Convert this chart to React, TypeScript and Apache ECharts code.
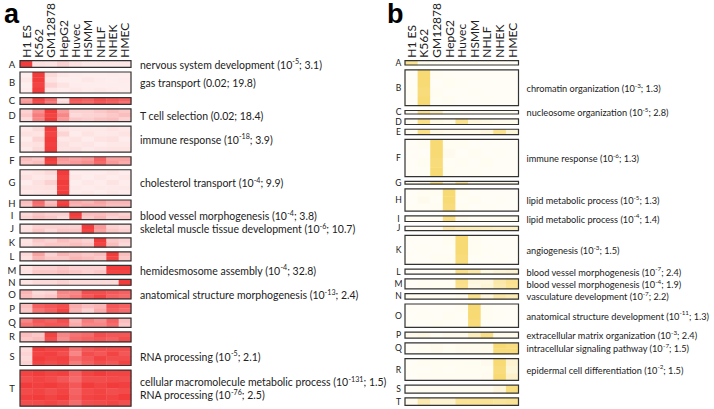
import React, { useEffect, useRef } from "react";
import * as echarts from "echarts";

const FONT = "Lato, 'Open Sans', sans-serif";

const cellLines = ["H1 ES", "K562", "GM12878", "HepG2", "Huvec", "HSMM", "NHLF", "NHEK", "HMEC"];
const groupLetters = ["A", "B", "C", "D", "E", "F", "G", "H", "I", "J", "K", "L", "M", "N", "O", "P", "Q", "R", "S", "T"];

// relative group sizes (number of rows / genes, arbitrary units)
const sizesA = [6.7, 21, 6.7, 12.7, 26, 8.4, 25.7, 7.3, 7.7, 9, 9.4, 9, 9.3, 6, 9, 10, 9.3, 10, 19, 36];
const sizesB = [4.3, 36, 3.5, 5.7, 5.3, 37.3, 2.7, 22.3, 5.6, 4.3, 29, 5, 10, 5.6, 23.4, 6, 11, 21.7, 8, 7.4];

// expression levels (0..1) per group: rows x cell lines
const heatA: number[][][] = [
  [[1, 0.12, 0.1, 0.2, 0.12, 0.08, 0.08, 0.08, 0.08]],
  [[0.05, 1, 0.15, 0.08, 0.06, 0.05, 0.05, 0.06, 0.05], [0.08, 1, 0.1, 0.05, 0.05, 0.08, 0.06, 0.05, 0.06], [0.04, 0.95, 0.18, 0.1, 0.06, 0.05, 0.05, 0.05, 0.05], [0.06, 1, 0.08, 0.06, 0.08, 0.06, 0.07, 0.06, 0.05]],
  [[0.45, 0.95, 0.75, 0.12, 0.85, 0.8, 0.9, 0.85, 0.8], [0.5, 0.9, 0.65, 0.15, 0.8, 0.75, 0.85, 0.8, 0.7]],
  [[0.2, 0.55, 1, 0.5, 0.2, 0.2, 0.25, 0.3, 0.25], [0.25, 0.65, 0.95, 0.6, 0.15, 0.18, 0.2, 0.25, 0.3], [0.15, 0.6, 1, 0.5, 0.25, 0.22, 0.28, 0.3, 0.2]],
  [[0.08, 0.15, 1, 0.1, 0.08, 0.08, 0.08, 0.1, 0.08], [0.12, 0.1, 0.95, 0.18, 0.06, 0.1, 0.07, 0.08, 0.1], [0.06, 0.18, 1, 0.08, 0.1, 0.06, 0.1, 0.12, 0.06], [0.1, 0.12, 0.98, 0.12, 0.08, 0.09, 0.06, 0.08, 0.08], [0.07, 0.15, 1, 0.1, 0.12, 0.07, 0.09, 0.1, 0.1]],
  [[0.3, 0.25, 1, 0.5, 0.45, 0.5, 0.8, 0.45, 0.45], [0.25, 0.3, 0.95, 0.45, 0.5, 0.55, 0.75, 0.5, 0.4]],
  [[0.08, 0.1, 0.15, 1, 0.06, 0.06, 0.06, 0.08, 0.06], [0.12, 0.08, 0.1, 0.95, 0.08, 0.05, 0.08, 0.06, 0.08], [0.06, 0.12, 0.2, 1, 0.05, 0.08, 0.06, 0.1, 0.06], [0.1, 0.1, 0.12, 0.98, 0.07, 0.06, 0.07, 0.07, 0.08], [0.08, 0.09, 0.1, 1, 0.06, 0.07, 0.05, 0.08, 0.06]],
  [[0.3, 0.75, 0.3, 0.95, 0.4, 0.35, 0.45, 0.35, 0.35], [0.25, 0.7, 0.35, 1, 0.35, 0.4, 0.4, 0.3, 0.3]],
  [[0.15, 0.25, 0.2, 0.2, 1, 0.3, 0.3, 0.25, 0.2], [0.2, 0.3, 0.25, 0.15, 0.95, 0.25, 0.35, 0.2, 0.25]],
  [[0.1, 0.2, 0.2, 0.2, 0.2, 1, 0.5, 0.2, 0.15], [0.12, 0.25, 0.15, 0.25, 0.25, 0.95, 0.45, 0.25, 0.2]],
  [[0.1, 0.25, 0.2, 0.3, 0.25, 0.2, 1, 0.25, 0.2], [0.12, 0.2, 0.25, 0.25, 0.3, 0.25, 0.95, 0.3, 0.15]],
  [[0.15, 0.45, 0.2, 0.35, 0.3, 0.25, 0.3, 1, 0.3], [0.12, 0.35, 0.25, 0.25, 0.35, 0.3, 0.25, 0.95, 0.25]],
  [[0.1, 0.2, 0.2, 0.25, 0.2, 0.2, 0.2, 1, 1], [0.12, 0.25, 0.25, 0.3, 0.25, 0.2, 0.25, 0.95, 0.95]],
  [[0.1, 0.15, 0.15, 0.2, 0.15, 0.15, 0.15, 0.15, 1]],
  [[0.35, 0.15, 0.18, 0.6, 0.6, 0.9, 0.9, 0.85, 0.8], [0.3, 0.2, 0.25, 0.55, 0.65, 0.85, 0.95, 0.8, 0.75]],
  [[0.3, 0.8, 0.85, 0.9, 0.4, 0.3, 0.35, 0.85, 0.8], [0.25, 0.7, 0.8, 0.95, 0.35, 0.2, 0.4, 0.8, 0.75]],
  [[0.6, 0.85, 0.8, 0.9, 0.35, 0.65, 0.55, 0.8, 0.3], [0.7, 0.8, 0.85, 0.85, 0.4, 0.6, 0.6, 0.75, 0.25]],
  [[0.3, 0.25, 0.95, 0.6, 0.7, 0.75, 0.9, 0.85, 0.85], [0.25, 0.3, 0.9, 0.55, 0.75, 0.8, 0.85, 0.8, 0.9]],
  [[0.15, 1, 0.95, 0.95, 0.7, 0.85, 0.9, 0.9, 0.9], [0.18, 0.95, 0.98, 0.9, 0.6, 0.9, 0.85, 0.95, 0.85], [0.15, 1, 0.95, 0.98, 0.75, 0.85, 0.95, 0.9, 0.9], [0.2, 0.95, 0.9, 0.95, 0.65, 0.8, 0.9, 0.85, 0.95]],
  [[0.95, 1, 0.95, 0.98, 0.8, 0.95, 1, 0.95, 0.95], [0.9, 0.95, 0.92, 0.85, 0.75, 0.9, 0.9, 0.92, 0.9], [1, 0.98, 1, 0.95, 0.85, 1, 0.95, 1, 0.98], [0.92, 0.95, 0.9, 0.95, 0.78, 0.92, 0.95, 0.9, 0.92], [0.98, 1, 0.95, 1, 0.82, 0.95, 0.98, 0.95, 1], [0.9, 0.92, 0.95, 0.9, 0.75, 0.9, 0.92, 0.95, 0.9]],
];

const heatB: number[][][] = [
  [[0.75, 0.08, 0.05, 0.03, 0.03, 0.03, 0.03, 0.03, 0.03]],
  [[0.03, 1, 0.05, 0.04, 0.03, 0.02, 0.03, 0.02, 0.02], [0.02, 1, 0.03, 0.06, 0.04, 0.03, 0.02, 0.03, 0.02], [0.04, 0.95, 0.06, 0.03, 0.02, 0.04, 0.03, 0.02, 0.03], [0.02, 1, 0.04, 0.05, 0.03, 0.03, 0.04, 0.03, 0.02]],
  [[0.05, 0.8, 0.5, 0.05, 0.05, 0.05, 0.05, 0.05, 0.05]],
  [[0.05, 0.85, 0.15, 0.1, 0.8, 0.2, 0.15, 0.1, 0.1]],
  [[0.05, 0.85, 0.15, 0.1, 0.1, 0.1, 0.2, 0.8, 0.25]],
  [[0.02, 0.05, 1, 0.05, 0.05, 0.03, 0.03, 0.03, 0.03], [0.03, 0.03, 1, 0.08, 0.03, 0.05, 0.03, 0.04, 0.02], [0.02, 0.06, 0.95, 0.04, 0.06, 0.03, 0.05, 0.03, 0.03], [0.03, 0.04, 1, 0.06, 0.04, 0.04, 0.03, 0.02, 0.03]],
  [[0.05, 0.1, 0.8, 0.1, 0.7, 0.1, 0.1, 0.1, 0.1]],
  [[0.03, 0.05, 0.05, 1, 0.05, 0.03, 0.03, 0.03, 0.03], [0.02, 0.08, 0.04, 1, 0.04, 0.05, 0.03, 0.04, 0.02], [0.04, 0.04, 0.06, 0.95, 0.06, 0.03, 0.04, 0.03, 0.03]],
  [[0.05, 0.05, 0.05, 0.9, 0.1, 0.05, 0.05, 0.05, 0.05]],
  [[0.05, 0.05, 0.05, 0.6, 0.5, 0.5, 0.45, 0.4, 0.4]],
  [[0.03, 0.03, 0.03, 0.05, 1, 0.05, 0.03, 0.03, 0.03], [0.02, 0.04, 0.03, 0.04, 1, 0.06, 0.04, 0.03, 0.02], [0.03, 0.03, 0.05, 0.06, 0.95, 0.04, 0.03, 0.04, 0.03]],
  [[0.03, 0.03, 0.03, 0.05, 0.85, 0.6, 0.15, 0.25, 0.3]],
  [[0.03, 0.05, 0.05, 0.05, 0.85, 0.2, 0.2, 0.6, 0.8], [0.03, 0.05, 0.05, 0.05, 0.8, 0.15, 0.25, 0.55, 0.75]],
  [[0.05, 0.05, 0.05, 0.05, 0.1, 0.8, 0.2, 0.6, 0.5]],
  [[0.03, 0.03, 0.03, 0.03, 0.05, 1, 0.05, 0.03, 0.03], [0.02, 0.04, 0.03, 0.05, 0.04, 1, 0.06, 0.04, 0.03], [0.03, 0.03, 0.05, 0.04, 0.03, 0.95, 0.04, 0.03, 0.03]],
  [[0.1, 0.15, 0.05, 0.1, 0.1, 0.45, 0.85, 0.1, 0.1]],
  [[0.03, 0.05, 0.1, 0.05, 0.1, 0.1, 0.1, 1, 0.9], [0.03, 0.05, 0.08, 0.05, 0.08, 0.08, 0.1, 0.95, 0.95]],
  [[0.03, 0.05, 0.05, 0.05, 0.05, 0.05, 0.08, 1, 0.3], [0.04, 0.04, 0.06, 0.04, 0.06, 0.06, 0.05, 0.95, 0.25], [0.03, 0.05, 0.05, 0.06, 0.05, 0.05, 0.07, 1, 0.35]],
  [[0.03, 0.05, 0.05, 0.05, 0.05, 0.05, 0.05, 0.2, 0.9]],
  [[0.1, 0.55, 0.3, 0.3, 0.75, 0.75, 0.75, 0.7, 0.75]],
];

const notesA = [
  "nervous system development (10^-5; 3.1)",
  "gas transport (0.02; 19.8)",
  "",
  "T cell selection (0.02; 18.4)",
  "immune response (10^-18; 3.9)",
  "",
  "cholesterol transport (10^-4; 9.9)",
  "",
  "blood vessel morphogenesis (10^-4; 3.8)",
  "skeletal muscle tissue development (10^-6; 10.7)",
  "",
  "",
  "hemidesmosome assembly (10^-4; 32.8)",
  "",
  "anatomical structure morphogenesis (10^-13; 2.4)",
  "",
  "",
  "",
  "RNA processing (10^-5; 2.1)",
  "cellular macromolecule metabolic process (10^-131; 1.5)\nRNA processing (10^-76; 2.5)",
];

const notesB = [
  "",
  "chromatin organization (10^-3; 1.3)",
  "nucleosome organization (10^-5; 2.8)",
  "",
  "",
  "immune response (10^-6; 1.3)",
  "",
  "lipid metabolic process (10^-5; 1.3)",
  "lipid metabolic process (10^-4; 1.4)",
  "",
  "angiogenesis (10^-3; 1.5)",
  "blood vessel morphogenesis (10^-7; 2.4)",
  "blood vessel morphogenesis (10^-4; 1.9)",
  "vasculature development (10^-7; 2.2)",
  "anatomical structure development (10^-11; 1.3)",
  "extracellular matrix organization (10^-3; 2.4)",
  "intracellular signaling pathway (10^-7; 1.5)",
  "epidermal cell differentiation (10^-2; 1.5)",
  "",
  "",
];

const GAP_A = 4.6;
const GAP_B = 4.8;

function layout(sizes: number[], gap: number) {
  const spans: [number, number][] = [];
  let y = 0;
  sizes.forEach((s, i) => {
    spans.push([y, y + s]);
    y += s + (i < sizes.length - 1 ? gap : 0);
  });
  return { spans, total: y };
}

function heatData(heat: number[][][], spans: [number, number][]) {
  const out: number[][] = [];
  heat.forEach((rows, g) => {
    const [y0, y1] = spans[g];
    const h = (y1 - y0) / rows.length;
    rows.forEach((row, r) => {
      row.forEach((v, c) => out.push([c, y0 + r * h, y0 + (r + 1) * h, v]));
    });
  });
  return out;
}

function toRich(s: string) {
  return s.replace(/10\^(-\d+)/g, "10{s|$1}");
}

function heatSeries(xi: number, data: number[][]) {
  return {
    type: "custom",
    xAxisIndex: xi,
    yAxisIndex: xi,
    encode: { x: 0, y: [1, 2] },
    data,
    renderItem: (params: any, api: any) => {
      const c = api.value(0);
      const p0 = api.coord([c, api.value(1)]);
      const p1 = api.coord([c, api.value(2)]);
      const w = api.size([1, 0])[0];
      return {
        type: "rect",
        shape: { x: p0[0] - w / 2, y: p0[1], width: w + 0.4, height: p1[1] - p0[1] + 0.4 },
        style: { fill: api.visual("color") },
      };
    },
  };
}

function boxSeries(xi: number, spans: [number, number][], notes: string[], letterOffset: number, noteSize: number, letterSize: number, noteGap: number) {
  return {
    type: "custom",
    xAxisIndex: xi,
    yAxisIndex: xi,
    clip: false,
    encode: { x: 0, y: [1, 2] },
    data: spans.map((s, i) => [0, s[0], s[1], i]),
    renderItem: (params: any, api: any) => {
      const cs = params.coordSys;
      const idx = api.value(3);
      const ya = api.coord([0, api.value(1)])[1];
      const yb = api.coord([0, api.value(2)])[1];
      const mid = (ya + yb) / 2;
      const children: any[] = [
        {
          type: "rect",
          shape: { x: cs.x, y: ya, width: cs.width, height: yb - ya },
          style: { fill: "none", stroke: "#333", lineWidth: 1.2 },
        },
        {
          type: "text",
          style: {
            text: groupLetters[idx],
            x: cs.x - letterOffset,
            y: mid,
            align: "center",
            verticalAlign: "middle",
            fontSize: letterSize,
            lineHeight: letterSize,
            fontFamily: FONT,
            fill: "#222",
          },
        },
      ];
      const note = notes[idx];
      if (note) {
        children.push({
          type: "text",
          style: {
            text: toRich(note),
            x: cs.x + cs.width + noteGap,
            y: mid + 0.5,
            align: "left",
            verticalAlign: "middle",
            fontSize: noteSize,
            lineHeight: 12.5,
            fontFamily: FONT,
            fill: "#222",
            rich: {
              s: { fontSize: noteSize * 0.68, lineHeight: 6, verticalAlign: "top", fontFamily: FONT, fill: "#222" },
            },
          },
        });
      }
      return { type: "group", children };
    },
  };
}

export default function App() {
  const ref = useRef<HTMLDivElement>(null);
  useEffect(() => {
    if (!ref.current) return;
    const chart = echarts.init(ref.current, null, { renderer: "svg" });
    const la = layout(sizesA, GAP_A);
    const lb = layout(sizesB, GAP_B);
    const grids = [
      { left: 20, top: 60.5, width: 111, height: la.total },
      { left: 405, top: 60, width: 113.5, height: lb.total },
    ];
    const totals = [la.total, lb.total];
    const option: any = {
      animation: false,
      textStyle: { fontFamily: FONT },
      grid: grids,
      xAxis: [0, 1].map((i) => ({
        gridIndex: i,
        type: "category",
        data: cellLines,
        position: "top",
        axisLine: { show: false },
        axisTick: { show: false },
        splitLine: { show: false },
        axisLabel: { rotate: 90, margin: 3, fontSize: 12, color: "#222", interval: 0, fontFamily: FONT },
      })),
      yAxis: [0, 1].map((i) => ({
        gridIndex: i,
        type: "value",
        min: 0,
        max: totals[i],
        inverse: true,
        show: false,
      })),
      visualMap: [
        { type: "continuous", show: false, seriesIndex: 0, dimension: 3, min: 0, max: 1, inRange: { color: ["#fff6f6", "#f23b3b"] } },
        { type: "continuous", show: false, seriesIndex: 2, dimension: 3, min: 0, max: 1, inRange: { color: ["#fffef9", "#f8da74"] } },
      ],
      series: [
        heatSeries(0, heatData(heatA, la.spans)),
        boxSeries(0, la.spans, notesA, 8, 10.5, 9.5, 9),
        heatSeries(1, heatData(heatB, lb.spans)),
        boxSeries(1, lb.spans, notesB, 6.5, 9.2, 8.6, 8),
      ],
      graphic: [
        { type: "text", left: 4, top: 0, style: { text: "a", font: "bold 27px 'Liberation Sans', Arial, sans-serif", fill: "#000" } },
        { type: "text", left: 387, top: 0, style: { text: "b", font: "bold 27px 'Liberation Sans', Arial, sans-serif", fill: "#000" } },
      ],
    };
    chart.setOption(option);
    return () => chart.dispose();
  }, []);
  return <div ref={ref} style={{ position: "fixed", left: 0, top: 0, width: 714, height: 409, background: "#fff" }} />;
}
